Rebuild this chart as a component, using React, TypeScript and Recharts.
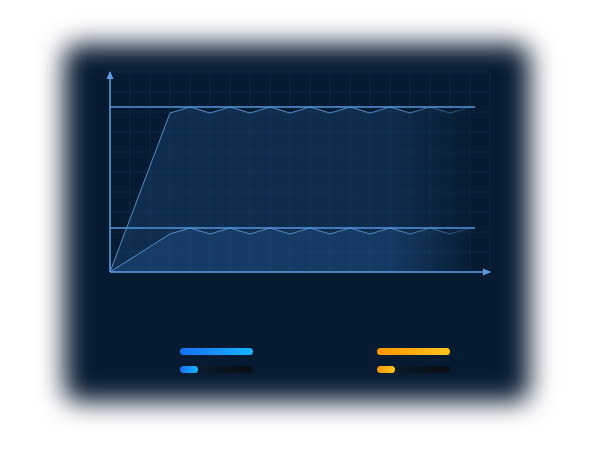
import { AreaChart, Area, XAxis, YAxis, CartesianGrid, ReferenceLine } from 'recharts';

// x positions of the sampled points, one unit per grid column
const xPoints = [0, 3, 4, 5, 6, 7, 8, 9, 10, 11, 12, 13, 14, 15, 16, 17, 18];
const upperValues = [0, 7.95, 8.25, 7.95, 8.25, 7.95, 8.25, 7.95, 8.25, 7.95, 8.25, 7.95, 8.25, 7.95, 8.25, 7.95, 8.25];
const lowerValues = [0, 1.9, 2.2, 1.9, 2.2, 1.9, 2.2, 1.9, 2.2, 1.9, 2.2, 1.9, 2.2, 1.9, 2.2, 1.9, 2.2];
const xTicks = [0, 1, 2, 3, 4, 5, 6, 7, 8, 9, 10, 11, 12, 13, 14, 15, 16, 17, 18, 19];
const yTicks = [0, 1, 2, 3, 4, 5, 6, 7, 8, 9, 10];
const referenceLevels = [8.25, 2.2];
const referenceEnd = 18.25;
const legendProgress = [0.25, 0.25];

const series = [
  { key: 'upper', name: 'Upper', from: '#1670f5', to: '#18b4ff' },
  { key: 'lower', name: 'Lower', from: '#ff9500', to: '#ffc61f' },
];

const chartData = xPoints.map((x, i) => ({ x, upper: upperValues[i], lower: lowerValues[i] }));

const AXIS = '#5b9de2';
// ticks are kept for the grid but draw nothing
const noTick = () => <g />;

function LegendBars() {
  return (
    <div style={{ position: 'absolute', left: 180, top: 348, width: 270, display: 'flex', justifyContent: 'space-between' }}>
      {series.map((s, i) => (
        <div key={s.key} style={{ width: 73 }}>
          <div style={{ height: 7, borderRadius: 4, background: `linear-gradient(90deg, ${s.from}, ${s.to})` }} />
          <div style={{ position: 'relative', height: 7, marginTop: 11, borderRadius: 4, background: 'linear-gradient(90deg, rgba(20,40,64,0.4), #0a1119 70%, #080d13)' }}>
            <div style={{ width: `${legendProgress[i] * 100}%`, height: 7, borderRadius: 4, background: `linear-gradient(90deg, ${s.from}, ${s.to})` }} />
          </div>
        </div>
      ))}
    </div>
  );
}

export default function App() {
  return (
    <div style={{ position: 'absolute', left: 0, top: 0, width: 600, height: 450, background: '#ffffff', overflow: 'hidden' }}>
      <div
        style={{
          position: 'absolute',
          left: 64,
          top: 44,
          width: 466,
          height: 358,
          borderRadius: 14,
          background: '#061b31',
          filter: 'blur(13px)',
        }}
      />
      <div style={{ position: 'absolute', left: 0, top: 0 }}>
        <AreaChart width={600} height={450} data={chartData} margin={{ top: 72, right: 110, bottom: 177, left: 109 }}>
          <defs>
            <linearGradient id="areaFill" x1="0" y1="0" x2="1" y2="0">
              <stop offset="0%" stopColor="#3478c8" stopOpacity={0.32} />
              <stop offset="78%" stopColor="#3478c8" stopOpacity={0.3} />
              <stop offset="100%" stopColor="#3478c8" stopOpacity={0.02} />
            </linearGradient>
            <linearGradient id="areaStroke" x1="0" y1="0" x2="1" y2="0">
              <stop offset="0%" stopColor="#5a9ad8" stopOpacity={0.9} />
              <stop offset="80%" stopColor="#5a9ad8" stopOpacity={0.85} />
              <stop offset="100%" stopColor="#5a9ad8" stopOpacity={0.3} />
            </linearGradient>
            <linearGradient id="gridFade" x1="0" y1="0" x2="1" y2="0">
              <stop offset="0%" stopColor="#3f7cc0" stopOpacity={0.13} />
              <stop offset="85%" stopColor="#3f7cc0" stopOpacity={0.12} />
              <stop offset="100%" stopColor="#3f7cc0" stopOpacity={0.03} />
            </linearGradient>
            <marker id="arrowEnd" viewBox="0 0 8 8" refX="7" refY="4" markerWidth="8" markerHeight="8" markerUnits="userSpaceOnUse" orient="auto-start-reverse">
              <path d="M0,0.5 L8,4 L0,7.5 z" fill={AXIS} />
            </marker>
          </defs>
          <CartesianGrid stroke="#3f7cc0" strokeOpacity={0.11} strokeWidth={1} />
          <XAxis
            type="number"
            dataKey="x"
            domain={[0, 19]}
            ticks={xTicks}
            interval={0}
            height={1}
            tick={noTick}
            tickLine={false}
            axisLine={{ stroke: AXIS, strokeWidth: 1.5, markerEnd: 'url(#arrowEnd)' }}
          />
          <YAxis
            type="number"
            domain={[0, 10]}
            ticks={yTicks}
            interval={0}
            width={1}
            tick={noTick}
            tickLine={false}
            axisLine={{ stroke: AXIS, strokeWidth: 1.5, markerStart: 'url(#arrowEnd)' }}
          />
          <Area
            type="linear"
            dataKey="upper"
            name={series[0].name}
            stroke="url(#areaStroke)"
            strokeWidth={1}
            fill="url(#areaFill)"
            isAnimationActive={false}
          />
          <Area
            type="linear"
            dataKey="lower"
            name={series[1].name}
            stroke="url(#areaStroke)"
            strokeWidth={1}
            fill="url(#areaFill)"
            isAnimationActive={false}
          />
          {referenceLevels.map((level) => (
            <ReferenceLine
              key={level}
              segment={[
                { x: 0, y: level },
                { x: referenceEnd, y: level },
              ]}
              stroke="#5596dc"
              strokeWidth={1.5}
            />
          ))}
        </AreaChart>
      </div>
      <LegendBars />
    </div>
  );
}
